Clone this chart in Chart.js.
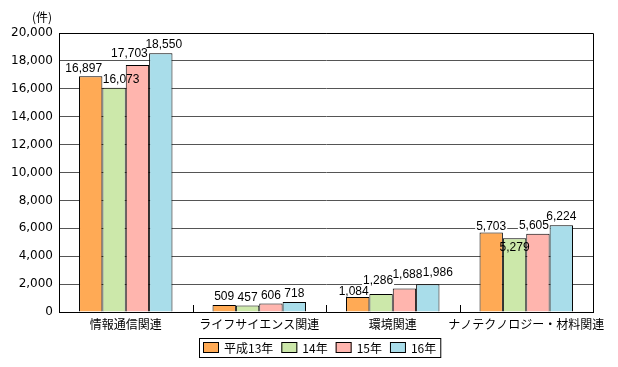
<!DOCTYPE html>
<html>
<head>
<meta charset="utf-8">
<script src="https://cdn.jsdelivr.net/npm/chart.js@4"></script>
<style>
html,body{margin:0;padding:0;background:#fff;}
#wrap{width:618px;height:367px;position:relative;}
</style>
</head>
<body>
<div id="wrap"><canvas id="c" width="618" height="367"></canvas></div>
<script>
const categories = ['情報通信関連', 'ライフサイエンス関連', '環境関連', 'ナノテクノロジー・材料関連'];
const seriesNames = ['平成13年', '14年', '15年', '16年'];
const h13 = [16897, 509, 1084, 5703];
const h14 = [16073, 457, 1286, 5279];
const h15 = [17703, 606, 1688, 5605];
const h16 = [18550, 718, 1986, 6224];
const yTicks = [0, 2000, 4000, 6000, 8000, 10000, 12000, 14000, 16000, 18000, 20000];
const unitLabel = '(件)';

const colors = ['#FFAA55', '#CCE8AA', '#FFB5AE', '#A9DDEA'];
const labelOffsets = [
  [[-7, 0], [0, 0], [-4, 3], [0, 2]],
  [[7, 0], [0, 0], [-3, -5], [0, 17]],
  [[-8, -3], [0, 0], [3, -6], [-4, 0]],
  [[3, -1], [0, 0], [10, -4], [0, 0]]
];
const fmt = v => v.toLocaleString('en-US');
const LABEL_FONT = '12px "Liberation Sans", Arial, sans-serif';
const CJK_FONT = '"Noto Sans CJK JP", "Noto Sans", sans-serif';

function labelBoxes(chart) {
  const ctx = chart.ctx;
  ctx.font = LABEL_FONT;
  const out = [];
  chart.data.datasets.forEach((ds, di) => {
    const meta = chart.getDatasetMeta(di);
    meta.data.forEach((bar, i) => {
      const off = labelOffsets[di][i];
      const txt = fmt(ds.data[i]);
      const w = ctx.measureText(txt).width;
      const x = bar.x + off[0];
      const y = bar.y - 8 + off[1];
      out.push({txt, x, y, w});
    });
  });
  return out;
}

const customPlugin = {
  id: 'custom',
  beforeDatasetsDraw(chart) {
    const ctx = chart.ctx;
    ctx.save();
    ctx.fillStyle = '#fff';
    labelBoxes(chart).forEach(b => {
      ctx.fillRect(b.x - b.w / 2 - 1, b.y - 5, b.w + 2, 10);
    });
    ctx.restore();
  },
  afterDatasetsDraw(chart) {
    const ctx = chart.ctx;
    const a = chart.chartArea;
    ctx.save();
    // frame
    ctx.strokeStyle = '#000';
    ctx.lineWidth = 1;
    ctx.beginPath();
    ctx.moveTo(Math.round(a.left) + 0.5, Math.round(a.top) + 0.5);
    ctx.lineTo(Math.round(a.right) + 0.5, Math.round(a.top) + 0.5);
    ctx.lineTo(Math.round(a.right) + 0.5, Math.round(a.bottom) + 0.5);
    ctx.stroke();
    // category tick marks
    const xs = chart.scales.x;
    for (let i = 1; i < categories.length; i++) {
      const px = Math.round((xs.getPixelForValue(i - 1) + xs.getPixelForValue(i)) / 2) + 0.5;
      ctx.beginPath();
      ctx.moveTo(px, a.bottom - 7);
      ctx.lineTo(px, a.bottom);
      ctx.stroke();
    }
    // value labels
    ctx.fillStyle = '#000';
    ctx.font = LABEL_FONT;
    ctx.textAlign = 'center';
    ctx.textBaseline = 'middle';
    labelBoxes(chart).forEach(b => ctx.fillText(b.txt, b.x, b.y));
    // unit label
    ctx.font = '12px ' + CJK_FONT;
    ctx.fillText(unitLabel, 42, 17);
    // legend
    ctx.font = '12px ' + CJK_FONT;
    const sw = 16, sh = 11, gapT = 5, gapI = 8;
    const widths = seriesNames.map(s => ctx.measureText(s).width);
    let total = 0;
    widths.forEach((w, i) => { total += sw + gapT + w + (i < widths.length - 1 ? gapI : 0); });
    const cx = 320, cy = 347;
    let x = Math.round(cx - total / 2);
    ctx.strokeRect(x - 4 + 0.5, cy - 9 + 0.5, total + 8, 19);
    ctx.textAlign = 'left';
    seriesNames.forEach((s, i) => {
      ctx.fillStyle = colors[i];
      ctx.fillRect(x, cy - 5, sw, sh);
      ctx.strokeRect(x + 0.5, cy - 5 + 0.5, sw - 1, sh - 1);
      ctx.fillStyle = '#000';
      ctx.fillText(s, x + sw + gapT, cy + 1);
      x += sw + gapT + widths[i] + gapI;
    });
    ctx.restore();
  }
};

new Chart(document.getElementById('c'), {
  type: 'bar',
  data: {
    labels: categories,
    datasets: [h13, h14, h15, h16].map((d, i) => ({
      label: seriesNames[i],
      data: d,
      backgroundColor: colors[i],
      borderColor: '#000',
      borderWidth: 1,
      borderSkipped: 'start',
      barPercentage: 1.0,
      categoryPercentage: 0.7
    }))
  },
  options: {
    responsive: false,
    animation: false,
    devicePixelRatio: 1,
    layout: {padding: {top: 33, right: 25, bottom: 0, left: 0}},
    plugins: {legend: {display: false}, tooltip: {enabled: false}},
    scales: {
      x: {
        grid: {display: false},
        border: {display: true, color: '#000', width: 1},
        ticks: {color: '#000', font: {family: CJK_FONT, size: 12}, padding: -3, maxRotation: 0, autoSkip: false},
        afterFit(s) { s.height = 55; }
      },
      y: {
        min: 0, max: 20000,
        afterBuildTicks(s) { s.ticks = yTicks.map(v => ({value: v})); },
        grid: {color: '#555', drawTicks: false, lineWidth: 1},
        border: {display: true, color: '#000', width: 1},
        ticks: {color: '#000', font: {family: 'DejaVu Sans', size: 12}, padding: 6, callback: v => fmt(v)},
        afterFit(s) { s.width = 59; }
      }
    }
  },
  plugins: [customPlugin]
});
</script>
</body>
</html>
